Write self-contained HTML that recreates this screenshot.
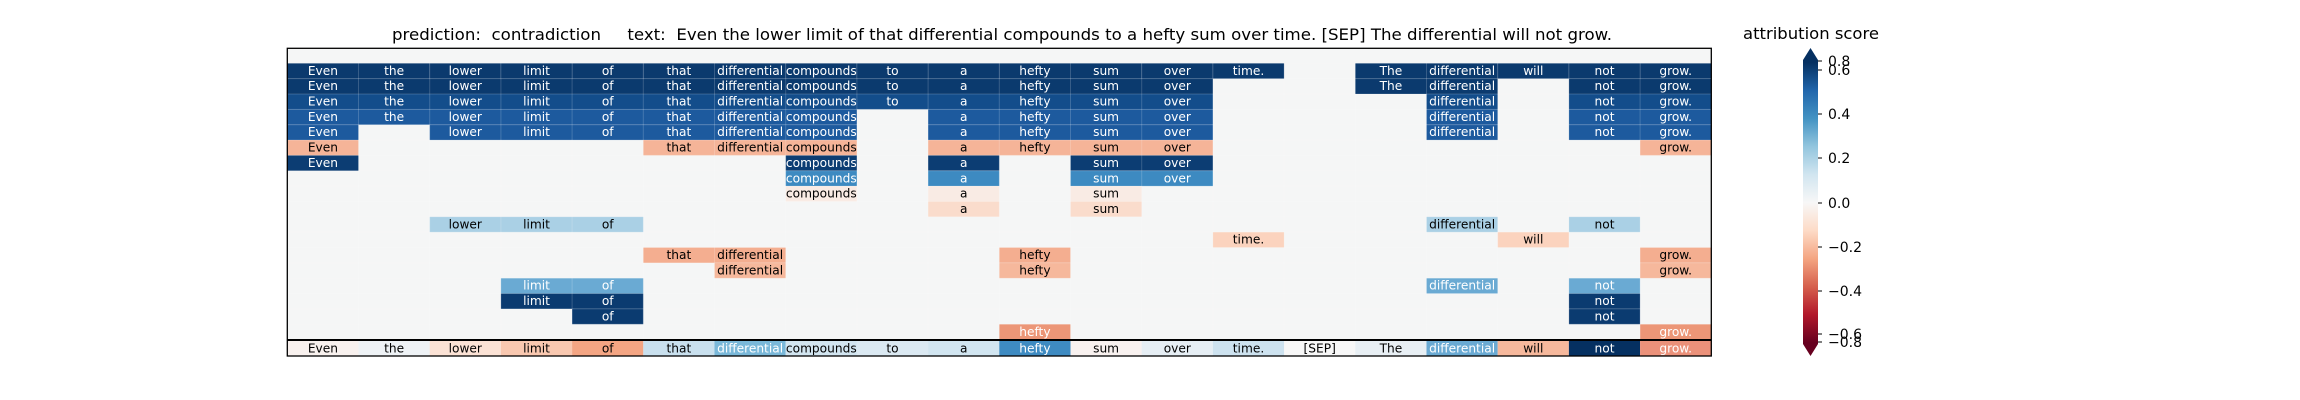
<!DOCTYPE html>
<html><head><meta charset="utf-8"><style>
html,body{margin:0;padding:0;background:#fff;width:2300px;height:400px;overflow:hidden}
svg text{font-family:"DejaVu Sans","Liberation Sans",sans-serif}
.c text{font-size:12.2px;text-anchor:middle}
.w{fill:#fff}
</style></head><body>
<svg width="2300" height="400" viewBox="0 0 2300 400" xmlns="http://www.w3.org/2000/svg">
<defs>
<linearGradient id="rdbu" x1="0" y1="0" x2="0" y2="1">
<stop offset="0" stop-color="#053061"/><stop offset="0.1" stop-color="#2166ac"/><stop offset="0.2" stop-color="#4393c3"/><stop offset="0.3" stop-color="#92c5de"/><stop offset="0.4" stop-color="#d1e5f0"/><stop offset="0.5" stop-color="#f7f7f7"/><stop offset="0.6" stop-color="#fddbc7"/><stop offset="0.7" stop-color="#f4a582"/><stop offset="0.8" stop-color="#d6604d"/><stop offset="0.9" stop-color="#b2182b"/><stop offset="1" stop-color="#67001f"/>
</linearGradient>
</defs>
<text x="392" y="40" font-size="16" textLength="1220" lengthAdjust="spacingAndGlyphs" xml:space="preserve">prediction:  contradiction     text:  Even the lower limit of that differential compounds to a hefty sum over time. [SEP] The differential will not grow.</text>
<text x="1743" y="39" font-size="16" textLength="136" lengthAdjust="spacingAndGlyphs">attribution score</text>
<rect x="287.3" y="48.3" width="1424" height="307.7" fill="#f5f6f6"/>
<g class="c" stroke-width="0">
<g transform="translate(0,63.3)">
<g fill="#0b3a6e"><rect x="287.3" width="71.2" height="15.35"/><rect x="358.5" width="71.2" height="15.35"/><rect x="429.7" width="71.2" height="15.35"/><rect x="500.9" width="71.2" height="15.35"/><rect x="572.1" width="71.2" height="15.35"/><rect x="643.3" width="71.2" height="15.35"/><rect x="714.5" width="71.2" height="15.35"/><rect x="785.7" width="71.2" height="15.35"/><rect x="856.9" width="71.2" height="15.35"/><rect x="928.1" width="71.2" height="15.35"/><rect x="999.3" width="71.2" height="15.35"/><rect x="1070.5" width="71.2" height="15.35"/><rect x="1141.7" width="71.2" height="15.35"/><rect x="1212.9" width="71.2" height="15.35"/><rect x="1355.3" width="71.2" height="15.35"/><rect x="1426.5" width="71.2" height="15.35"/><rect x="1497.7" width="71.2" height="15.35"/><rect x="1568.9" width="71.2" height="15.35"/><rect x="1640.1" width="71.2" height="15.35"/></g>
<g class="w"><text x="322.9" y="11.5">Even</text><text x="394.1" y="11.5">the</text><text x="465.3" y="11.5">lower</text><text x="536.5" y="11.5">limit</text><text x="607.7" y="11.5">of</text><text x="678.9" y="11.5">that</text><text x="750.1" y="11.5">differential</text><text x="821.3" y="11.5">compounds</text><text x="892.5" y="11.5">to</text><text x="963.7" y="11.5">a</text><text x="1034.9" y="11.5">hefty</text><text x="1106.1" y="11.5">sum</text><text x="1177.3" y="11.5">over</text><text x="1248.5" y="11.5">time.</text><text x="1390.9" y="11.5">The</text><text x="1462.1" y="11.5">differential</text><text x="1533.3" y="11.5">will</text><text x="1604.5" y="11.5">not</text><text x="1675.7" y="11.5">grow.</text></g>
</g>
<g transform="translate(0,78.65)">
<g fill="#0b3a6e"><rect x="287.3" width="925.6" height="15.35"/><rect x="1355.3" width="142.4" height="15.35"/><rect x="1568.9" width="142.4" height="15.35"/></g>
<g class="w"><text x="322.9" y="11.5">Even</text><text x="394.1" y="11.5">the</text><text x="465.3" y="11.5">lower</text><text x="536.5" y="11.5">limit</text><text x="607.7" y="11.5">of</text><text x="678.9" y="11.5">that</text><text x="750.1" y="11.5">differential</text><text x="821.3" y="11.5">compounds</text><text x="892.5" y="11.5">to</text><text x="963.7" y="11.5">a</text><text x="1034.9" y="11.5">hefty</text><text x="1106.1" y="11.5">sum</text><text x="1177.3" y="11.5">over</text><text x="1390.9" y="11.5">The</text><text x="1462.1" y="11.5">differential</text><text x="1604.5" y="11.5">not</text><text x="1675.7" y="11.5">grow.</text></g>
</g>
<g transform="translate(0,94)">
<g fill="#134d8b"><rect x="287.3" width="925.6" height="15.35"/><rect x="1426.5" width="71.2" height="15.35"/><rect x="1568.9" width="142.4" height="15.35"/></g>
<g class="w"><text x="322.9" y="11.5">Even</text><text x="394.1" y="11.5">the</text><text x="465.3" y="11.5">lower</text><text x="536.5" y="11.5">limit</text><text x="607.7" y="11.5">of</text><text x="678.9" y="11.5">that</text><text x="750.1" y="11.5">differential</text><text x="821.3" y="11.5">compounds</text><text x="892.5" y="11.5">to</text><text x="963.7" y="11.5">a</text><text x="1034.9" y="11.5">hefty</text><text x="1106.1" y="11.5">sum</text><text x="1177.3" y="11.5">over</text><text x="1462.1" y="11.5">differential</text><text x="1604.5" y="11.5">not</text><text x="1675.7" y="11.5">grow.</text></g>
</g>
<g transform="translate(0,109.35)">
<g fill="#1d5a9e"><rect x="287.3" width="569.6" height="15.35"/><rect x="928.1" width="284.8" height="15.35"/><rect x="1426.5" width="71.2" height="15.35"/><rect x="1568.9" width="142.4" height="15.35"/></g>
<g class="w"><text x="322.9" y="11.5">Even</text><text x="394.1" y="11.5">the</text><text x="465.3" y="11.5">lower</text><text x="536.5" y="11.5">limit</text><text x="607.7" y="11.5">of</text><text x="678.9" y="11.5">that</text><text x="750.1" y="11.5">differential</text><text x="821.3" y="11.5">compounds</text><text x="963.7" y="11.5">a</text><text x="1034.9" y="11.5">hefty</text><text x="1106.1" y="11.5">sum</text><text x="1177.3" y="11.5">over</text><text x="1462.1" y="11.5">differential</text><text x="1604.5" y="11.5">not</text><text x="1675.7" y="11.5">grow.</text></g>
</g>
<g transform="translate(0,124.7)">
<g fill="#1d5a9e"><rect x="287.3" width="71.2" height="15.35"/><rect x="429.7" width="427.2" height="15.35"/><rect x="928.1" width="284.8" height="15.35"/><rect x="1426.5" width="71.2" height="15.35"/><rect x="1568.9" width="142.4" height="15.35"/></g>
<g class="w"><text x="322.9" y="11.5">Even</text><text x="465.3" y="11.5">lower</text><text x="536.5" y="11.5">limit</text><text x="607.7" y="11.5">of</text><text x="678.9" y="11.5">that</text><text x="750.1" y="11.5">differential</text><text x="821.3" y="11.5">compounds</text><text x="963.7" y="11.5">a</text><text x="1034.9" y="11.5">hefty</text><text x="1106.1" y="11.5">sum</text><text x="1177.3" y="11.5">over</text><text x="1462.1" y="11.5">differential</text><text x="1604.5" y="11.5">not</text><text x="1675.7" y="11.5">grow.</text></g>
</g>
<g transform="translate(0,140.05)">
<g fill="#f5b498"><rect x="287.3" width="71.2" height="15.35"/><rect x="643.3" width="213.6" height="15.35"/><rect x="928.1" width="284.8" height="15.35"/><rect x="1640.1" width="71.2" height="15.35"/></g>
<g><text x="322.9" y="11.5">Even</text><text x="678.9" y="11.5">that</text><text x="750.1" y="11.5">differential</text><text x="821.3" y="11.5">compounds</text><text x="963.7" y="11.5">a</text><text x="1034.9" y="11.5">hefty</text><text x="1106.1" y="11.5">sum</text><text x="1177.3" y="11.5">over</text><text x="1675.7" y="11.5">grow.</text></g>
</g>
<g transform="translate(0,155.4)">
<g fill="#0c3d73"><rect x="287.3" width="71.2" height="15.35"/><rect x="785.7" width="71.2" height="15.35"/><rect x="928.1" width="71.2" height="15.35"/><rect x="1070.5" width="142.4" height="15.35"/></g>
<g class="w"><text x="322.9" y="11.5">Even</text><text x="821.3" y="11.5">compounds</text><text x="963.7" y="11.5">a</text><text x="1106.1" y="11.5">sum</text><text x="1177.3" y="11.5">over</text></g>
</g>
<g transform="translate(0,170.75)">
<g fill="#3d8ac1"><rect x="785.7" width="71.2" height="15.35"/><rect x="928.1" width="71.2" height="15.35"/><rect x="1070.5" width="142.4" height="15.35"/></g>
<g class="w"><text x="821.3" y="11.5">compounds</text><text x="963.7" y="11.5">a</text><text x="1106.1" y="11.5">sum</text><text x="1177.3" y="11.5">over</text></g>
</g>
<g transform="translate(0,186.1)">
<g fill="#f9ebe4"><rect x="785.7" width="71.2" height="15.35"/><rect x="928.1" width="71.2" height="15.35"/><rect x="1070.5" width="71.2" height="15.35"/></g>
<g><text x="821.3" y="11.5">compounds</text><text x="963.7" y="11.5">a</text><text x="1106.1" y="11.5">sum</text></g>
</g>
<g transform="translate(0,201.45)">
<g fill="#fadccc"><rect x="928.1" width="71.2" height="15.35"/><rect x="1070.5" width="71.2" height="15.35"/></g>
<g><text x="963.7" y="11.5">a</text><text x="1106.1" y="11.5">sum</text></g>
</g>
<g transform="translate(0,216.8)">
<g fill="#aad0e5"><rect x="429.7" width="213.6" height="15.35"/><rect x="1426.5" width="71.2" height="15.35"/><rect x="1568.9" width="71.2" height="15.35"/></g>
<g><text x="465.3" y="11.5">lower</text><text x="536.5" y="11.5">limit</text><text x="607.7" y="11.5">of</text><text x="1462.1" y="11.5">differential</text><text x="1604.5" y="11.5">not</text></g>
</g>
<g transform="translate(0,232.15)">
<g fill="#fbd3be"><rect x="1212.9" width="71.2" height="15.35"/><rect x="1497.7" width="71.2" height="15.35"/></g>
<g><text x="1248.5" y="11.5">time.</text><text x="1533.3" y="11.5">will</text></g>
</g>
<g transform="translate(0,247.5)">
<g fill="#f4ae90"><rect x="643.3" width="142.4" height="15.35"/><rect x="999.3" width="71.2" height="15.35"/><rect x="1640.1" width="71.2" height="15.35"/></g>
<g><text x="678.9" y="11.5">that</text><text x="750.1" y="11.5">differential</text><text x="1034.9" y="11.5">hefty</text><text x="1675.7" y="11.5">grow.</text></g>
</g>
<g transform="translate(0,262.85)">
<g fill="#f6b89c"><rect x="714.5" width="71.2" height="15.35"/><rect x="999.3" width="71.2" height="15.35"/><rect x="1640.1" width="71.2" height="15.35"/></g>
<g><text x="750.1" y="11.5">differential</text><text x="1034.9" y="11.5">hefty</text><text x="1675.7" y="11.5">grow.</text></g>
</g>
<g transform="translate(0,278.2)">
<g fill="#6aaad3"><rect x="500.9" width="142.4" height="15.35"/><rect x="1426.5" width="71.2" height="15.35"/><rect x="1568.9" width="71.2" height="15.35"/></g>
<g class="w"><text x="536.5" y="11.5">limit</text><text x="607.7" y="11.5">of</text><text x="1462.1" y="11.5">differential</text><text x="1604.5" y="11.5">not</text></g>
</g>
<g transform="translate(0,293.55)">
<g fill="#0b3b70"><rect x="500.9" width="142.4" height="15.35"/><rect x="1568.9" width="71.2" height="15.35"/></g>
<g class="w"><text x="536.5" y="11.5">limit</text><text x="607.7" y="11.5">of</text><text x="1604.5" y="11.5">not</text></g>
</g>
<g transform="translate(0,308.9)">
<g fill="#0b3b70"><rect x="572.1" width="71.2" height="15.35"/><rect x="1568.9" width="71.2" height="15.35"/></g>
<g class="w"><text x="607.7" y="11.5">of</text><text x="1604.5" y="11.5">not</text></g>
</g>
<g transform="translate(0,324.25)">
<g fill="#ec9677"><rect x="999.3" width="71.2" height="15.35"/><rect x="1640.1" width="71.2" height="15.35"/></g>
<g class="w"><text x="1034.9" y="11.5">hefty</text><text x="1675.7" y="11.5">grow.</text></g>
</g>
<g transform="translate(0,340.5)">
<rect x="287.3" width="71.2" height="15.5" fill="#f8f1ee"/><rect x="358.5" width="71.2" height="15.5" fill="#eef2f5"/><rect x="429.7" width="71.2" height="15.5" fill="#fbe2d5"/><rect x="500.9" width="71.2" height="15.5" fill="#f9c8b0"/><rect x="572.1" width="71.2" height="15.5" fill="#f4a583"/><rect x="643.3" width="71.2" height="15.5" fill="#c9e0ee"/><rect x="714.5" width="71.2" height="15.5" fill="#7ab8d9"/><rect x="785.7" width="71.2" height="15.5" fill="#d2e5f0"/><rect x="856.9" width="71.2" height="15.5" fill="#dbe9f2"/><rect x="928.1" width="71.2" height="15.5" fill="#d1e5f0"/><rect x="999.3" width="71.2" height="15.5" fill="#3e8bc2"/><rect x="1070.5" width="71.2" height="15.5" fill="#f8f1ef"/><rect x="1141.7" width="71.2" height="15.5" fill="#e6eef4"/><rect x="1212.9" width="71.2" height="15.5" fill="#cde2ef"/><rect x="1284.1" width="71.2" height="15.5" fill="#f7f7f7"/><rect x="1355.3" width="71.2" height="15.5" fill="#e8eff4"/><rect x="1426.5" width="71.2" height="15.5" fill="#6aaad3"/><rect x="1497.7" width="71.2" height="15.5" fill="#f6b89c"/><rect x="1568.9" width="71.2" height="15.5" fill="#053061"/><rect x="1640.1" width="71.2" height="15.5" fill="#eb917a"/>
<text x="322.9" y="11.8">Even</text><text x="394.1" y="11.8">the</text><text x="465.3" y="11.8">lower</text><text x="536.5" y="11.8">limit</text><text x="607.7" y="11.8">of</text><text x="678.9" y="11.8">that</text><text class="w" x="750.1" y="11.8">differential</text><text x="821.3" y="11.8">compounds</text><text x="892.5" y="11.8">to</text><text x="963.7" y="11.8">a</text><text class="w" x="1034.9" y="11.8">hefty</text><text x="1106.1" y="11.8">sum</text><text x="1177.3" y="11.8">over</text><text x="1248.5" y="11.8">time.</text><text x="1319.7" y="11.8">[SEP]</text><text x="1390.9" y="11.8">The</text><text class="w" x="1462.1" y="11.8">differential</text><text x="1533.3" y="11.8">will</text><text class="w" x="1604.5" y="11.8">not</text><text class="w" x="1675.7" y="11.8">grow.</text>
</g>
</g>
<g stroke="#ffffff" stroke-opacity="0.18" stroke-width="1">
<line x1="358.5" y1="63" x2="358.5" y2="340"/><line x1="429.7" y1="63" x2="429.7" y2="340"/><line x1="500.9" y1="63" x2="500.9" y2="340"/><line x1="572.1" y1="63" x2="572.1" y2="340"/><line x1="643.3" y1="63" x2="643.3" y2="340"/><line x1="714.5" y1="63" x2="714.5" y2="340"/><line x1="785.7" y1="63" x2="785.7" y2="340"/><line x1="856.9" y1="63" x2="856.9" y2="340"/><line x1="928.1" y1="63" x2="928.1" y2="340"/><line x1="999.3" y1="63" x2="999.3" y2="340"/><line x1="1070.5" y1="63" x2="1070.5" y2="340"/><line x1="1141.7" y1="63" x2="1141.7" y2="340"/><line x1="1212.9" y1="63" x2="1212.9" y2="340"/><line x1="1284.1" y1="63" x2="1284.1" y2="340"/><line x1="1355.3" y1="63" x2="1355.3" y2="340"/><line x1="1426.5" y1="63" x2="1426.5" y2="340"/><line x1="1497.7" y1="63" x2="1497.7" y2="340"/><line x1="1568.9" y1="63" x2="1568.9" y2="340"/><line x1="1640.1" y1="63" x2="1640.1" y2="340"/>
<line x1="287" y1="63.3" x2="1711" y2="63.3"/><line x1="287" y1="78.65" x2="1711" y2="78.65"/><line x1="287" y1="94" x2="1711" y2="94"/><line x1="287" y1="109.35" x2="1711" y2="109.35"/><line x1="287" y1="124.7" x2="1711" y2="124.7"/><line x1="287" y1="140.05" x2="1711" y2="140.05"/><line x1="287" y1="155.4" x2="1711" y2="155.4"/><line x1="287" y1="170.75" x2="1711" y2="170.75"/><line x1="287" y1="186.1" x2="1711" y2="186.1"/><line x1="287" y1="201.45" x2="1711" y2="201.45"/><line x1="287" y1="216.8" x2="1711" y2="216.8"/><line x1="287" y1="232.15" x2="1711" y2="232.15"/><line x1="287" y1="247.5" x2="1711" y2="247.5"/><line x1="287" y1="262.85" x2="1711" y2="262.85"/><line x1="287" y1="278.2" x2="1711" y2="278.2"/><line x1="287" y1="293.55" x2="1711" y2="293.55"/><line x1="287" y1="308.9" x2="1711" y2="308.9"/><line x1="287" y1="324.25" x2="1711" y2="324.25"/>
</g>
<line x1="287.3" y1="340" x2="1711.3" y2="340" stroke="#000" stroke-width="2"/>
<rect x="287.3" y="48.3" width="1424" height="307.7" fill="none" stroke="#000" stroke-width="1.3"/>
<polygon points="1810.5,48 1818,60 1818,63 1803,63 1803,60" fill="#053061"/>
<rect x="1803" y="62.5" width="15" height="280" fill="url(#rdbu)"/>
<polygon points="1803,342 1818,342 1818,344 1810.5,356 1803,344" fill="#67001f"/>
<g stroke="#000" stroke-width="1">
<line x1="1818" y1="61" x2="1822" y2="61"/><line x1="1818" y1="70" x2="1822" y2="70"/><line x1="1818" y1="114" x2="1822" y2="114"/><line x1="1818" y1="158" x2="1822" y2="158"/><line x1="1818" y1="203" x2="1822" y2="203"/><line x1="1818" y1="247" x2="1822" y2="247"/><line x1="1818" y1="291" x2="1822" y2="291"/><line x1="1818" y1="334" x2="1822" y2="334"/><line x1="1818" y1="342" x2="1822" y2="342"/>
</g>
<g font-size="14" fill="#000">
<text x="1828" y="66">0.8</text><text x="1828" y="75">0.6</text><text x="1828" y="119">0.4</text><text x="1828" y="163">0.2</text><text x="1828" y="208">0.0</text><text x="1828" y="252">−0.2</text><text x="1828" y="296">−0.4</text><text x="1828" y="339">−0.6</text><text x="1828" y="347">−0.8</text>
</g>
</svg>
</body></html>
